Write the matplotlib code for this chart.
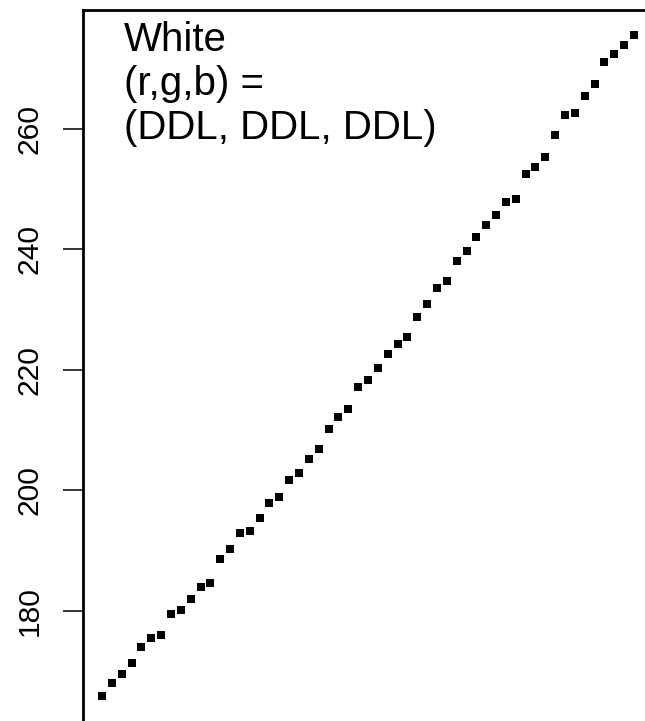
import matplotlib
matplotlib.use("Agg")
import matplotlib.pyplot as plt
import numpy as np

step = np.arange(1, 56)
white_val = [165.9, 168.1, 169.5, 171.3, 174.1, 175.5, 176.0, 179.5, 180.2, 182.0,
             184.0, 184.7, 188.6, 190.3, 192.9, 193.3, 195.4, 198.0, 199.0, 201.7,
             202.9, 205.3, 206.9, 210.2, 212.2, 213.5, 217.1, 218.3, 220.4, 222.6,
             224.3, 225.4, 228.8, 230.9, 233.6, 234.8, 238.1, 239.8, 242.1, 244.1,
             245.7, 247.8, 248.4, 252.5, 253.7, 255.4, 259.0, 262.3, 262.6, 265.5,
             267.4, 271.2, 272.4, 273.9, 275.6]
y_ticks = [180, 200, 220, 240, 260]
label_lines = ["White", "(r,g,b) =", "(DDL, DDL, DDL)"]

plt.rcParams['font.family'] = ['Liberation Sans', 'DejaVu Sans']

W, H = 645, 721
fig = plt.figure(figsize=(W / 100, H / 100), dpi=100)
# axes run off the right and bottom of the picture (cropped R plot)
left_px, top_px, right_px, bottom_px = 83, 10, 700, 751
ax = fig.add_axes([left_px / W, 1 - bottom_px / H,
                   (right_px - left_px) / W, (bottom_px - top_px) / H])

ax.plot(step, white_val, linestyle='none', marker='s', markersize=5.7,
        color='black', markeredgewidth=0)

ax.set_xlim(-0.93, 61.7)
ax.set_ylim(156.76, 279.75)
ax.set_xticks([])
ax.set_yticks(y_ticks)
ax.set_yticklabels([str(t) for t in y_ticks], rotation=90, va='center')
ax.tick_params(axis='y', length=14.4, width=1.1, pad=14, labelsize=21.6)
for s in ax.spines.values():
    s.set_linewidth(2.0)

ax.text((124 - left_px) / (right_px - left_px), 1.0 - 11 / (bottom_px - top_px),
        "\n".join(label_lines), transform=ax.transAxes, ha='left', va='top',
        fontsize=29, linespacing=1.2)

fig.savefig("out.png", dpi=100)
